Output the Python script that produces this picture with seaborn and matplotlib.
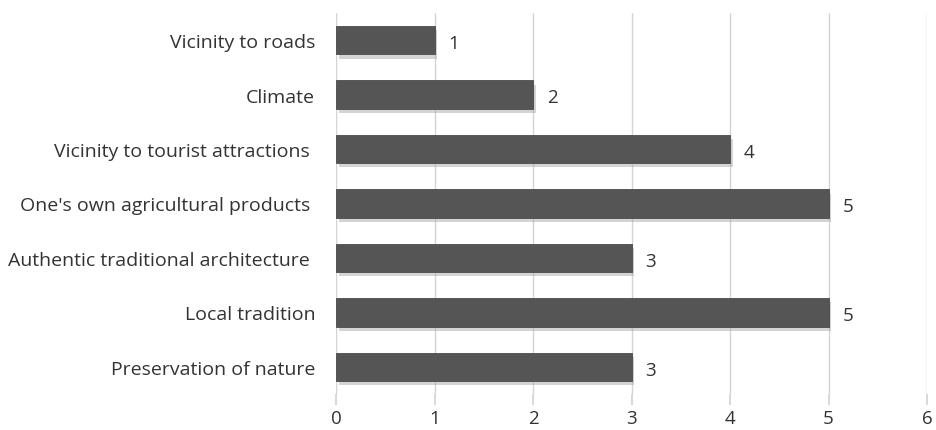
import matplotlib
matplotlib.use("Agg")
import matplotlib.pyplot as plt
import matplotlib.patheffects as pe
import pandas as pd
import seaborn as sns

# values, top to bottom (trailing spaces as in the source labels)
factors = [
    "Vicinity to roads",
    "Climate",
    "Vicinity to tourist attractions ",
    "One's own agricultural products ",
    "Authentic traditional architecture ",
    "Local tradition",
    "Preservation of nature",
]
counts = [1, 2, 4, 5, 3, 5, 3]
x_ticks = [0, 1, 2, 3, 4, 5, 6]

df = pd.DataFrame({"factor": factors, "count": counts})

sns.set_theme(style="white")
plt.rcParams["font.family"] = ["Open Sans", "DejaVu Sans"]

fig = plt.figure(figsize=(9.36, 4.31), dpi=100)
ax = fig.add_axes([336 / 936, 1 - 395 / 431, (927 - 336) / 936, 381 / 431])

sns.barplot(data=df, x="count", y="factor", color="#555555", saturation=1,
            width=0.52, ax=ax, zorder=3)

for bar in ax.patches:
    bar.set_edgecolor("#4a4a4a")
    bar.set_linewidth(0.6)
    bar.set_path_effects([pe.SimplePatchShadow(offset=(2, -3), shadow_rgbFace="#aaaaaa", alpha=0.5),
                          pe.Normal()])

for bar, v in zip(ax.patches, counts):
    ax.text(bar.get_width() + 0.14, bar.get_y() + bar.get_height() / 2 + 0.05, str(v),
            va="center", ha="left", fontsize=13.5, color="#333333")

ax.set_xlim(0, 6)
ax.set_xticks(x_ticks)
ax.set_xticklabels([str(t) for t in x_ticks], fontsize=13.5, color="#333333")
ax.xaxis.grid(True, color="#d4d4d4", linewidth=1, zorder=0)
ax.tick_params(axis="x", length=8, color="#d4d4d4", pad=3, direction="out", bottom=True)
ax.tick_params(axis="y", length=0, pad=15, labelsize=14, labelcolor="#333333")
ax.set_xlabel("")
ax.set_ylabel("")
for s in ax.spines.values():
    s.set_visible(False)

fig.savefig("out.png", dpi=100)
